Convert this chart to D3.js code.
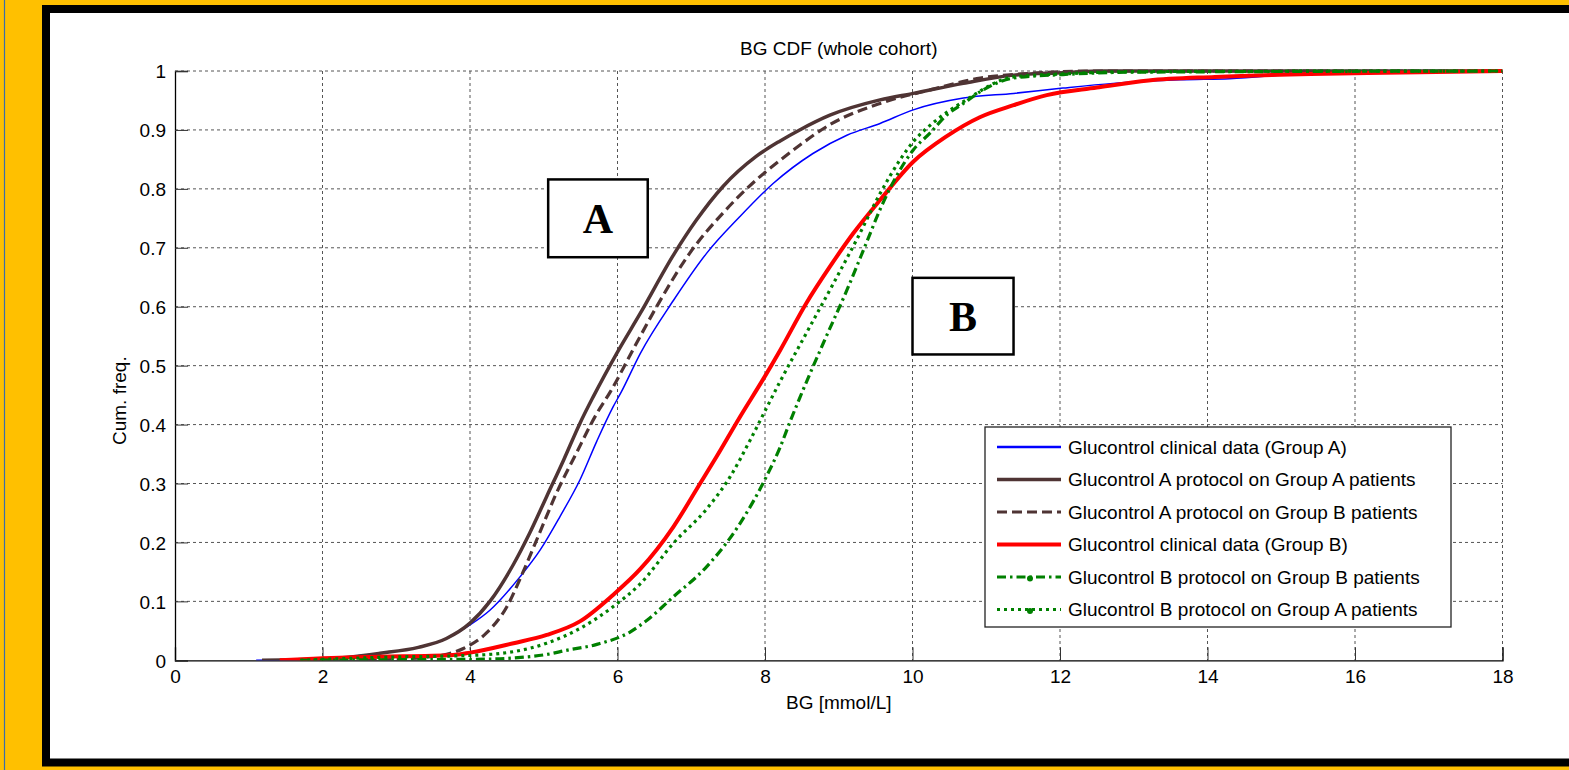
<!DOCTYPE html>
<html>
<head>
<meta charset="utf-8">
<script src="https://cdn.jsdelivr.net/npm/d3@7"></script>
<style>
  body { margin: 0; background: #FFC000; }
  svg { display: block; }
  text { font-family: "Liberation Sans", Arial, sans-serif; }
</style>
</head>
<body>
<div id="chart"></div>
<script>
// tick values
var xTicks = [0, 2, 4, 6, 8, 10, 12, 14, 16, 18];
var yTicks = [0, 0.1, 0.2, 0.3, 0.4, 0.5, 0.6, 0.7, 0.8, 0.9, 1];

// CDF curves, [BG, cum. freq.]
var clinicalA = [[1.1,0],[2.0,0.003],[2.78,0.012],[3.3,0.022],[3.59,0.032],[4.0,0.06],[4.27,0.085],[4.68,0.142],[4.95,0.187],[5.22,0.244],[5.49,0.306],[5.72,0.372],[5.94,0.43],[6.05,0.455],[6.31,0.521],[6.76,0.611],[7.21,0.691],[7.66,0.753],[8.11,0.809],[8.65,0.86],[9.11,0.891],[9.56,0.911],[10.01,0.934],[10.69,0.954],[11.37,0.962],[12.04,0.971],[12.72,0.979],[13.63,0.985],[14.3,0.987],[15.4,0.996],[18,1]];
var protoAonA = [[1.18,0],[2.0,0.002],[2.78,0.012],[3.3,0.022],[3.68,0.037],[4.0,0.063],[4.27,0.1],[4.59,0.163],[4.81,0.216],[5.04,0.278],[5.27,0.34],[5.49,0.402],[5.67,0.447],[5.99,0.521],[6.31,0.589],[6.76,0.688],[7.07,0.747],[7.43,0.804],[7.88,0.855],[8.2,0.881],[8.47,0.9],[8.88,0.925],[9.56,0.951],[10.01,0.962],[10.69,0.979],[11.37,0.993],[12.04,0.997],[12.6,1],[18,1]];
var protoAonB = [[2.6,0],[3.46,0.006],[3.91,0.02],[4.22,0.046],[4.5,0.091],[4.72,0.15],[4.95,0.218],[5.17,0.283],[5.44,0.351],[5.72,0.419],[5.9,0.455],[6.21,0.527],[6.53,0.6],[6.98,0.691],[7.43,0.759],[7.88,0.815],[8.2,0.848],[8.47,0.874],[8.88,0.909],[9.56,0.945],[10.24,0.968],[10.92,0.988],[11.59,0.996],[12.5,1],[18,1]];
var clinicalB = [[1.42,0],[2.42,0.005],[2.78,0.006],[3.77,0.009],[4.0,0.013],[4.59,0.029],[5.04,0.043],[5.49,0.066],[5.94,0.111],[6.31,0.155],[6.76,0.227],[7.12,0.3],[7.34,0.345],[7.66,0.413],[7.98,0.478],[8.2,0.525],[8.56,0.606],[8.88,0.668],[9.2,0.725],[9.56,0.781],[10.01,0.846],[10.46,0.889],[10.92,0.922],[11.37,0.942],[11.82,0.959],[12.5,0.972],[13.2,0.984],[14.1,0.99],[15.4,0.995],[16.4,0.997],[18,1]];
var protoBonB = [[1.7,0],[3.0,0.001],[4.22,0.002],[4.59,0.004],[5.13,0.012],[5.27,0.016],[5.72,0.027],[6.17,0.048],[6.4,0.068],[6.76,0.108],[7.21,0.159],[7.66,0.232],[8.02,0.312],[8.2,0.36],[8.34,0.405],[8.47,0.445],[8.79,0.538],[9.11,0.628],[9.38,0.71],[9.56,0.765],[9.78,0.821],[10.01,0.866],[10.24,0.895],[10.46,0.925],[10.69,0.945],[10.92,0.965],[11.37,0.988],[12.04,0.994],[13.0,0.998],[18,1]];
var protoBonA = [[1.7,0],[2.78,0.005],[4.14,0.009],[5.04,0.029],[5.49,0.054],[5.94,0.091],[6.31,0.13],[6.76,0.199],[7.21,0.257],[7.53,0.312],[7.8,0.374],[8.02,0.428],[8.2,0.472],[8.56,0.555],[8.93,0.64],[9.24,0.713],[9.56,0.792],[9.83,0.849],[10.01,0.88],[10.24,0.908],[10.69,0.948],[11.37,0.99],[12.04,0.995],[13.0,0.999],[18,1]];

var seriesNames = [
  "Glucontrol clinical data (Group A)",
  "Glucontrol A protocol on Group A patients",
  "Glucontrol A protocol on Group B patients",
  "Glucontrol clinical data (Group B)",
  "Glucontrol B protocol on Group B patients",
  "Glucontrol B protocol on Group A patients"
];

// annotation boxes in data units: [x0, x1, y0, y1]
var boxA = [5.06, 6.41, 0.684, 0.816];
var boxB = [10.0, 11.37, 0.519, 0.649];

(function () {
    var W = 1569, H = 770;
    var margin = { top: 71, right: 66.5, bottom: 109.7, left: 175 };
    var width = W - margin.left - margin.right,
        height = H - margin.top - margin.bottom;

    var svg = d3.select('#chart').append('svg')
        .attr('width', W).attr('height', H);

    // outer frame
    svg.append('rect').attr('width', W).attr('height', H).attr('fill', '#FFC000');
    svg.append('line').attr('x1', 4.5).attr('x2', 4.5).attr('y1', 0).attr('y2', H)
        .attr('stroke', '#3b6ea8').attr('stroke-width', 1.2);
    svg.append('rect').attr('x', 46).attr('y', 9).attr('width', W).attr('height', 753.5)
        .attr('fill', '#fff').attr('stroke', '#000').attr('stroke-width', 8);

    var g = svg.append('g')
        .attr('transform', 'translate(' + margin.left + ',' + margin.top + ')');

    var x = d3.scaleLinear().domain([0, 18]).range([0, width]);
    var y = d3.scaleLinear().domain([0, 1]).range([height, 0]);

    // grid
    g.append('g').selectAll('line').data(xTicks.slice(1)).enter().append('line')
        .attr('x1', function(d) { return x(d); }).attr('x2', function(d) { return x(d); })
        .attr('y1', 0).attr('y2', height)
        .attr('stroke', '#555').attr('stroke-dasharray', '3,3');
    g.append('g').selectAll('line').data(yTicks.slice(1)).enter().append('line')
        .attr('y1', function(d) { return y(d); }).attr('y2', function(d) { return y(d); })
        .attr('x1', 0).attr('x2', width)
        .attr('stroke', '#555').attr('stroke-dasharray', '3,3');

    // axes
    var xAxis = g.append('g').attr('transform', 'translate(0,' + height + ')')
        .call(d3.axisBottom(x).tickValues(xTicks).tickSize(-13).tickPadding(9).tickFormat(d3.format('d')));
    var yAxis = g.append('g')
        .call(d3.axisLeft(y).tickValues(yTicks).tickSize(-13).tickPadding(9).tickFormat(function(d) { return d === 0 || d === 1 ? d : d3.format('.1f')(d); }));
    [xAxis, yAxis].forEach(function(a) {
        a.select('.domain').attr('stroke', '#000').attr('stroke-width', 1.3);
        a.selectAll('.tick line').attr('stroke', '#333');
        a.selectAll('.tick text').attr('fill', '#000').style('font-size', '19px')
            .style('font-family', '"Liberation Sans", Arial, sans-serif');
    });
    yAxis.selectAll('.tick text').attr('dy', '0.36em');

    // labels
    g.append('text').attr('x', width / 2).attr('y', -16).attr('text-anchor', 'middle')
        .style('font-size', '19px').text('BG CDF (whole cohort)');
    g.append('text').attr('x', width / 2).attr('y', height + 49).attr('text-anchor', 'middle')
        .style('font-size', '19px').text('BG [mmol/L]');
    g.append('text').attr('transform', 'translate(-49,' + (height / 2 + 35) + ') rotate(-90)')
        .attr('text-anchor', 'middle').style('font-size', '19px').text('Cum. freq.');

    // curves
    var styles = [
        { data: clinicalA, color: '#0000ff', w: 1.5, dash: null },
        { data: protoAonA, color: '#4f3434', w: 3.5, dash: null },
        { data: protoAonB, color: '#4f3434', w: 3.2, dash: '10,5' },
        { data: clinicalB, color: '#ff0000', w: 4, dash: null },
        { data: protoBonB, color: '#008000', w: 3.2, dash: '9,4,2.5,4' },
        { data: protoBonA, color: '#008000', w: 3.2, dash: '3,4' }
    ];
    var line = d3.line().x(function(d) { return x(d[0]); }).y(function(d) { return y(d[1]); })
        .curve(d3.curveMonotoneX);
    g.append('clipPath').attr('id', 'clip').append('rect')
        .attr('x', 0).attr('y', -4).attr('width', width).attr('height', height + 4);
    g.append('g').attr('clip-path', 'url(#clip)').selectAll('path').data(styles).enter().append('path')
        .attr('d', function(d) { return line(d.data); })
        .attr('fill', 'none')
        .attr('stroke', function(d) { return d.color; })
        .attr('stroke-width', function(d) { return d.w; })
        .attr('stroke-dasharray', function(d) { return d.dash; });

    // annotation boxes
    [[boxA, 'A'], [boxB, 'B']].forEach(function(b) {
        var r = b[0];
        g.append('rect').attr('x', x(r[0])).attr('y', y(r[3]))
            .attr('width', x(r[1]) - x(r[0])).attr('height', y(r[2]) - y(r[3]))
            .attr('fill', '#fff').attr('stroke', '#000').attr('stroke-width', 2.5);
        g.append('text').attr('x', (x(r[0]) + x(r[1])) / 2).attr('y', (y(r[2]) + y(r[3])) / 2 + 14.5)
            .attr('text-anchor', 'middle')
            .style('font-family', '"Liberation Serif", "Times New Roman", serif')
            .style('font-weight', 'bold').style('font-size', '42px').text(b[1]);
    });

    // legend
    var leg = g.append('g').attr('transform', 'translate(' + (985 - margin.left) + ',' + (427 - margin.top) + ')');
    leg.append('rect').attr('width', 466).attr('height', 200)
        .attr('fill', '#fff').attr('stroke', '#222').attr('stroke-width', 1.3);
    var items = leg.selectAll('g.item').data(styles).enter().append('g')
        .attr('transform', function(d, i) { return 'translate(0,' + (20 + i * 32.5) + ')'; });
    items.append('line').attr('x1', 12).attr('x2', 76)
        .attr('stroke', function(d) { return d.color; })
        .attr('stroke-width', function(d) { return d.w === 1.5 ? 2.5 : d.w; })
        .attr('stroke-dasharray', function(d) { return d.dash; });
    items.filter(function(d, i) { return i >= 4; }).append('circle')
        .attr('cx', 45).attr('cy', 1.5).attr('r', 3).attr('fill', '#008000');
    items.append('text').attr('x', 83).attr('dy', '0.36em')
        .style('font-size', '19px')
        .text(function(d, i) { return seriesNames[i]; });
})();
</script>
</body>
</html>
